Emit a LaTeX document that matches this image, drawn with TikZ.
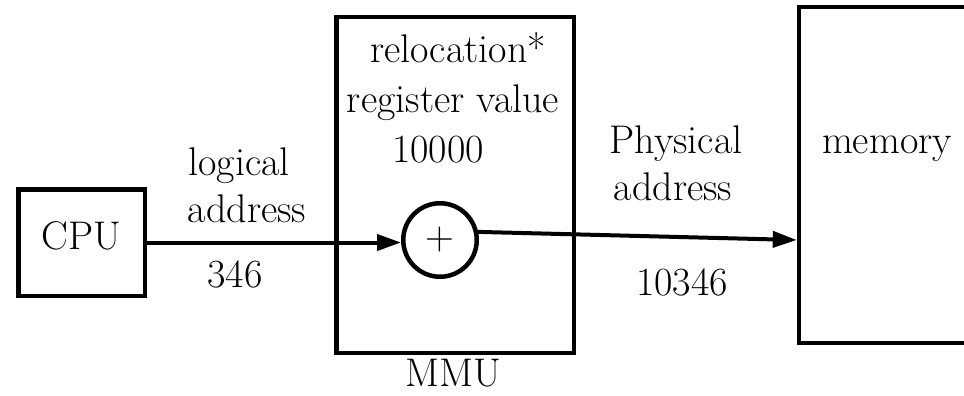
\documentclass[tikz,border=0pt]{standalone}
\usepackage{fontspec}
\usetikzlibrary{arrows.meta}
\begin{document}
\begin{tikzpicture}[x=1pt,y=-1pt,
  every node/.style={font=\fontsize{40}{48}\selectfont},
  box/.style={draw,line width=4.5pt,rectangle,inner sep=0pt},
  txt/.style={inner sep=0pt,anchor=base},
  arr/.style={line width=4pt,-{Triangle[length=24pt,width=16pt]}}]
\useasboundingbox (0,0) rectangle (964,396);
\clip (0,0) rectangle (964,396);
\fill[white] (0,0) rectangle (964,396);
% boxes
\node[box,minimum width=126.5pt,minimum height=106.5pt,text depth=14pt] (cpu) at (81.5,242.5) {CPU};
\node[box,minimum width=237.5pt,minimum height=335.5pt] (mmu) at (455,185) {};
\node[box,minimum width=201pt,minimum height=335.5pt] (mem) at (899.5,175) {};
\node[draw,circle,line width=4.5pt,minimum size=73.5pt,inner sep=0pt] (adder) at (440,240) {+};
% texts
\node[txt] (reloc) at (458,63) {relocation*};
\node[txt] (regval) at (453,112) {register value};
\node[txt] (regnum) at (438,162) {10000};
\node[txt] (logi) at (239,175) {logical};
\node[txt] (laddr) at (247,222) {address};
\node[txt] (lnum) at (235,287) {346};
\node[txt] (phys) at (676,153) {Physical};
\node[txt] (paddr) at (673,200) {address};
\node[txt] (pnum) at (682,295) {10346};
\node[txt] (mmulbl) at (453,386) {MMU};
\node[txt] (memlbl) at (887,153) {memory};
% connectors
\path (mem.west) ++(0,65) coordinate (memin);
\draw[arr] (cpu.east) -- (cpu.east -| adder.west);
\draw[arr] (adder.12) -- (memin);
\end{tikzpicture}
\end{document}
